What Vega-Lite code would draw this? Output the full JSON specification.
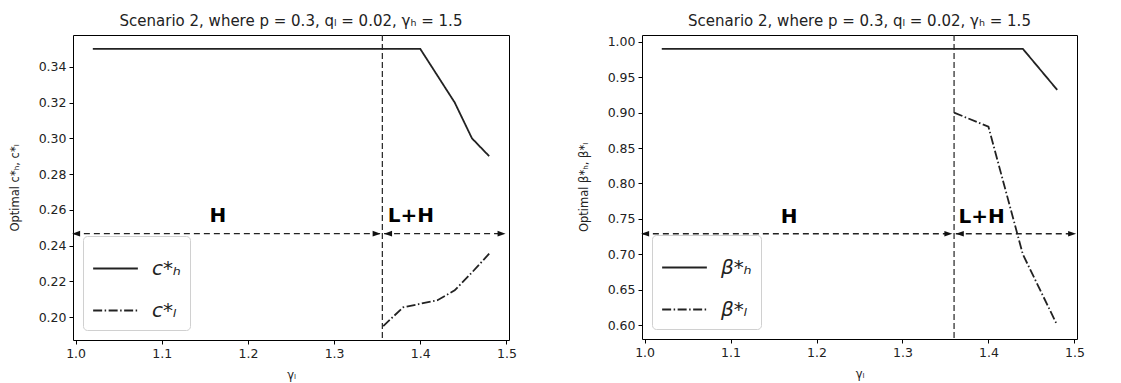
{
  "$schema": "https://vega.github.io/schema/vega-lite/v6.json",
  "padding": {"left": 8, "top": 13, "right": 4, "bottom": 2},
  "background": "white",
  "spacing": 60,
  "config": {
    "font": "DejaVu Sans",
    "view": {"stroke": "black", "strokeWidth": 1},
    "axis": {
      "grid": false,
      "domain": false,
      "tickColor": "black",
      "tickSize": 4,
      "labelColor": "#222",
      "labelFontSize": 12.5,
      "labelPadding": 3,
      "labelOverlap": false,
      "titleColor": "#222",
      "titleFontSize": 11.5,
      "titleFontWeight": "normal"
    },
    "axisY": {"titlePadding": 18},
    "axisX": {"titlePadding": 10},
    "title": {"fontSize": 15, "fontWeight": "normal", "color": "#222", "offset": 5},
    "legend": {
      "orient": "bottom-left",
      "offset": 10,
      "fillColor": "white",
      "strokeColor": "#d0d0d0",
      "cornerRadius": 4,
      "padding": 9,
      "title": null,
      "labelFontSize": 20,
      "labelFontStyle": "italic",
      "labelColor": "#222",
      "labelOffset": 13,
      "symbolType": "stroke",
      "symbolSize": 2000,
      "symbolStrokeWidth": 2,
      "symbolStrokeColor": "#222",
      "rowPadding": 8
    }
  },
  "resolve": {
    "scale": {"strokeDash": "independent", "x": "independent", "y": "independent"},
    "legend": {"strokeDash": "independent"}
  },
  "hconcat": [
    {
      "width": 436,
      "height": 305,
      "title": "Scenario 2, where p = 0.3, qₗ = 0.02, γₕ = 1.5",
      "layer": [
        {
          "data": {"values": [
            {"g": 1.02, "v": 0.35, "s": "cH"},
            {"g": 1.40, "v": 0.35, "s": "cH"},
            {"g": 1.44, "v": 0.32, "s": "cH"},
            {"g": 1.46, "v": 0.30, "s": "cH"},
            {"g": 1.48, "v": 0.29, "s": "cH"},
            {"g": 1.357, "v": 0.195, "s": "cL"},
            {"g": 1.38, "v": 0.2055, "s": "cL"},
            {"g": 1.40, "v": 0.2075, "s": "cL"},
            {"g": 1.42, "v": 0.2095, "s": "cL"},
            {"g": 1.44, "v": 0.215, "s": "cL"},
            {"g": 1.46, "v": 0.225, "s": "cL"},
            {"g": 1.48, "v": 0.2355, "s": "cL"}
          ]},
          "mark": {"type": "line", "color": "#222", "strokeWidth": 1.8},
          "encoding": {
            "x": {"field": "g", "type": "quantitative", "scale": {"domain": [0.997, 1.503], "nice": false, "zero": false},
                  "axis": {"values": [1.0, 1.1, 1.2, 1.3, 1.4, 1.5], "tickCount": 30, "format": ".1f", "title": "γₗ", "labelOverlap": false}},
            "y": {"field": "v", "type": "quantitative", "scale": {"domain": [0.18725, 0.35775], "nice": false, "zero": false},
                  "axis": {"values": [0.20, 0.22, 0.24, 0.26, 0.28, 0.30, 0.32, 0.34], "tickCount": 30, "format": ".2f", "title": "Optimal c*ₕ, c*ₗ", "labelOverlap": false}},
            "strokeDash": {"field": "s", "type": "nominal",
                  "scale": {"domain": ["cH", "cL"], "range": [[1, 0], [9, 2.5, 1.5, 2.5]]},
                  "legend": {"labelExpr": "datum.value == 'cH' ? 'c*ₕ' : 'c*ₗ'"}}
          }
        },
        {
          "data": {"values": [{"g": 1.356}]},
          "mark": {"type": "rule", "color": "#222", "strokeWidth": 1.2, "strokeDash": [6, 3]},
          "encoding": {"x": {"field": "g", "type": "quantitative"}}
        },
        {
          "data": {"values": [{"a": 0.998, "b": 1.354, "v": 0.2467}, {"a": 1.358, "b": 1.497, "v": 0.2467}]},
          "mark": {"type": "rule", "color": "#222", "strokeWidth": 1.3, "strokeDash": [6, 4]},
          "encoding": {
            "x": {"field": "a", "type": "quantitative"},
            "x2": {"field": "b"},
            "y": {"field": "v", "type": "quantitative"}
          }
        },
        {
          "data": {"values": [{"g": 0.996, "v": 0.2467}, {"g": 1.358, "v": 0.2467}]},
          "mark": {"type": "point", "shape": "M0,0L2,-0.7L2,0.7Z", "filled": true, "color": "#111", "size": 64, "opacity": 1},
          "encoding": {"x": {"field": "g", "type": "quantitative"}, "y": {"field": "v", "type": "quantitative"}}
        },
        {
          "data": {"values": [{"g": 1.354, "v": 0.2467}, {"g": 1.499, "v": 0.2467}]},
          "mark": {"type": "point", "shape": "M0,0L-2,-0.7L-2,0.7Z", "filled": true, "color": "#111", "size": 64, "opacity": 1},
          "encoding": {"x": {"field": "g", "type": "quantitative"}, "y": {"field": "v", "type": "quantitative"}}
        },
        {
          "data": {"values": [{"g": 1.165, "v": 0.2566, "t": "H"}, {"g": 1.389, "v": 0.2566, "t": "L+H"}]},
          "mark": {"type": "text", "font": "DejaVu Sans", "fontWeight": "bold", "fontSize": 20, "color": "#000", "baseline": "middle", "align": "center"},
          "encoding": {"x": {"field": "g", "type": "quantitative"}, "y": {"field": "v", "type": "quantitative"}, "text": {"field": "t"}}
        }
      ]
    },
    {
      "width": 435,
      "height": 304,
      "title": "Scenario 2, where p = 0.3, qₗ = 0.02, γₕ = 1.5",
      "layer": [
        {
          "data": {"values": [
            {"g": 1.02, "v": 0.99, "s": "bH"},
            {"g": 1.44, "v": 0.99, "s": "bH"},
            {"g": 1.48, "v": 0.932, "s": "bH"},
            {"g": 1.36, "v": 0.90, "s": "bL"},
            {"g": 1.40, "v": 0.88, "s": "bL"},
            {"g": 1.44, "v": 0.70, "s": "bL"},
            {"g": 1.48, "v": 0.60, "s": "bL"}
          ]},
          "mark": {"type": "line", "color": "#222", "strokeWidth": 1.8},
          "encoding": {
            "x": {"field": "g", "type": "quantitative", "scale": {"domain": [0.997, 1.503], "nice": false, "zero": false},
                  "axis": {"values": [1.0, 1.1, 1.2, 1.3, 1.4, 1.5], "tickCount": 30, "format": ".1f", "title": "γₗ", "labelOverlap": false}},
            "y": {"field": "v", "type": "quantitative", "scale": {"domain": [0.5805, 1.0095], "nice": false, "zero": false},
                  "axis": {"values": [0.60, 0.65, 0.70, 0.75, 0.80, 0.85, 0.90, 0.95, 1.00], "tickCount": 30, "format": ".2f", "title": "Optimal β*ₕ, β*ₗ", "labelOverlap": false}},
            "strokeDash": {"field": "s", "type": "nominal",
                  "scale": {"domain": ["bH", "bL"], "range": [[1, 0], [9, 2.5, 1.5, 2.5]]},
                  "legend": {"labelExpr": "datum.value == 'bH' ? 'β*ₕ' : 'β*ₗ'"}}
          }
        },
        {
          "data": {"values": [{"g": 1.36}]},
          "mark": {"type": "rule", "color": "#222", "strokeWidth": 1.2, "strokeDash": [6, 3]},
          "encoding": {"x": {"field": "g", "type": "quantitative"}}
        },
        {
          "data": {"values": [{"a": 0.998, "b": 1.358, "v": 0.729}, {"a": 1.362, "b": 1.5, "v": 0.729}]},
          "mark": {"type": "rule", "color": "#222", "strokeWidth": 1.3, "strokeDash": [6, 4]},
          "encoding": {
            "x": {"field": "a", "type": "quantitative"},
            "x2": {"field": "b"},
            "y": {"field": "v", "type": "quantitative"}
          }
        },
        {
          "data": {"values": [{"g": 0.996, "v": 0.729}, {"g": 1.362, "v": 0.729}]},
          "mark": {"type": "point", "shape": "M0,0L2,-0.7L2,0.7Z", "filled": true, "color": "#111", "size": 64, "opacity": 1},
          "encoding": {"x": {"field": "g", "type": "quantitative"}, "y": {"field": "v", "type": "quantitative"}}
        },
        {
          "data": {"values": [{"g": 1.358, "v": 0.729}, {"g": 1.502, "v": 0.729}]},
          "mark": {"type": "point", "shape": "M0,0L-2,-0.7L-2,0.7Z", "filled": true, "color": "#111", "size": 64, "opacity": 1},
          "encoding": {"x": {"field": "g", "type": "quantitative"}, "y": {"field": "v", "type": "quantitative"}}
        },
        {
          "data": {"values": [{"g": 1.168, "v": 0.753, "t": "H"}, {"g": 1.392, "v": 0.753, "t": "L+H"}]},
          "mark": {"type": "text", "font": "DejaVu Sans", "fontWeight": "bold", "fontSize": 20, "color": "#000", "baseline": "middle", "align": "center"},
          "encoding": {"x": {"field": "g", "type": "quantitative"}, "y": {"field": "v", "type": "quantitative"}, "text": {"field": "t"}}
        }
      ]
    }
  ]
}
